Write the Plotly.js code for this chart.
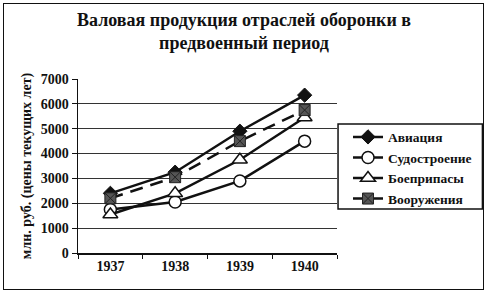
<!DOCTYPE html>
<html>
<head>
<meta charset="utf-8">
<script src="https://cdn.plot.ly/plotly-3.0.1.min.js"></script>
<style>
html,body{margin:0;padding:0;background:#fff;}
#wrap{position:relative;width:488px;height:293px;}
#chart{width:488px;height:293px;}
#frame{position:absolute;left:3px;top:3px;width:479px;height:285px;border:1.5px solid #111;pointer-events:none;}
</style>
</head>
<body>
<div id="wrap"><div id="chart"></div><div id="frame"></div></div>
<script>
const years = ['1937', '1938', '1939', '1940'];
const aviation = [2400, 3250, 4900, 6350];
const shipbuilding = [1750, 2050, 2900, 4500];
const ammunition = [1550, 2400, 3750, 5450];
const armament = [2200, 3050, 4500, 5750];
const seriesNames = ['Авиация', 'Судостроение', 'Боеприпасы', 'Вооружения'];
const yTicks = [0, 1000, 2000, 3000, 4000, 5000, 6000, 7000];

const serif = 'Liberation Serif, DejaVu Serif, serif';
const traces = [
  {x: years, y: aviation, name: seriesNames[0], type: 'scatter', mode: 'lines+markers',
   line: {color: '#111', width: 2.5},
   marker: {symbol: 'diamond', size: 11, color: '#111', line: {color: '#111', width: 1}}},
  {x: years, y: shipbuilding, name: seriesNames[1], type: 'scatter', mode: 'lines+markers',
   line: {color: '#111', width: 2.5},
   marker: {symbol: 'circle', size: 12, color: '#fff', line: {color: '#111', width: 1.5}}},
  {x: years, y: ammunition, name: seriesNames[2], type: 'scatter', mode: 'lines+markers',
   line: {color: '#111', width: 2.5},
   marker: {symbol: 'triangle-up', size: 13, color: '#fff', line: {color: '#111', width: 1.5}}},
  {x: years, y: armament, name: seriesNames[3], type: 'scatter', mode: 'lines+markers',
   line: {color: '#111', width: 2.5, dash: '13px,8px'},
   marker: {symbol: 'square-x', size: 11, color: '#555', line: {color: '#222', width: 1}}}
];

const layout = {
  width: 488, height: 293,
  margin: {l: 78, r: 150, t: 79, b: 40},
  paper_bgcolor: '#fff', plot_bgcolor: '#fff',
  showlegend: true,
  title: {
    text: 'Валовая продукция отраслей оборонки в<br>предвоенный период',
    font: {family: serif, size: 18, color: '#111', weight: 'bold'},
    x: 0.5, xanchor: 'center', xref: 'container',
    y: 0.912, yanchor: 'middle', yref: 'container'
  },
  xaxis: {
    type: 'category', range: [-0.5, 3.5],
    tickson: 'boundaries', ticks: 'outside', ticklen: 4, tickcolor: '#111',
    showline: true, linecolor: '#111', linewidth: 1.5,
    showgrid: false, zeroline: false,
    tickfont: {family: serif, size: 14, color: '#111', weight: 'bold'}
  },
  yaxis: {
    range: [0, 7000], tickvals: yTicks, ticktext: yTicks.map(String),
    ticks: 'outside', ticklen: 5, tickcolor: '#111',
    showline: true, linecolor: '#111', linewidth: 1.5,
    showgrid: true, gridcolor: '#333', gridwidth: 1, zeroline: false,
    tickfont: {family: serif, size: 14, color: '#111', weight: 'bold'},
    title: {text: 'млн. руб. (цены текущих лет)', font: {family: serif, size: 14, color: '#111', weight: 'bold'}, standoff: 6}
  },
  legend: {
    x: 1.0385, xanchor: 'left', y: 0.755, yanchor: 'top',
    borderwidth: 0, bgcolor: 'rgba(0,0,0,0)',
    font: {family: serif, size: 13.5, color: '#111', weight: 'bold'},
    tracegroupgap: 0, itemwidth: 30
  },
  shapes: [{
    type: 'rect', xref: 'paper', yref: 'paper',
    x0: 1.004, x1: 1.5615, y0: 0.253, y1: 0.741,
    line: {color: '#111', width: 1.5}, fillcolor: 'rgba(0,0,0,0)'
  }]
};

Plotly.newPlot('chart', traces, layout, {displayModeBar: false, staticPlot: true});
</script>
</body>
</html>
